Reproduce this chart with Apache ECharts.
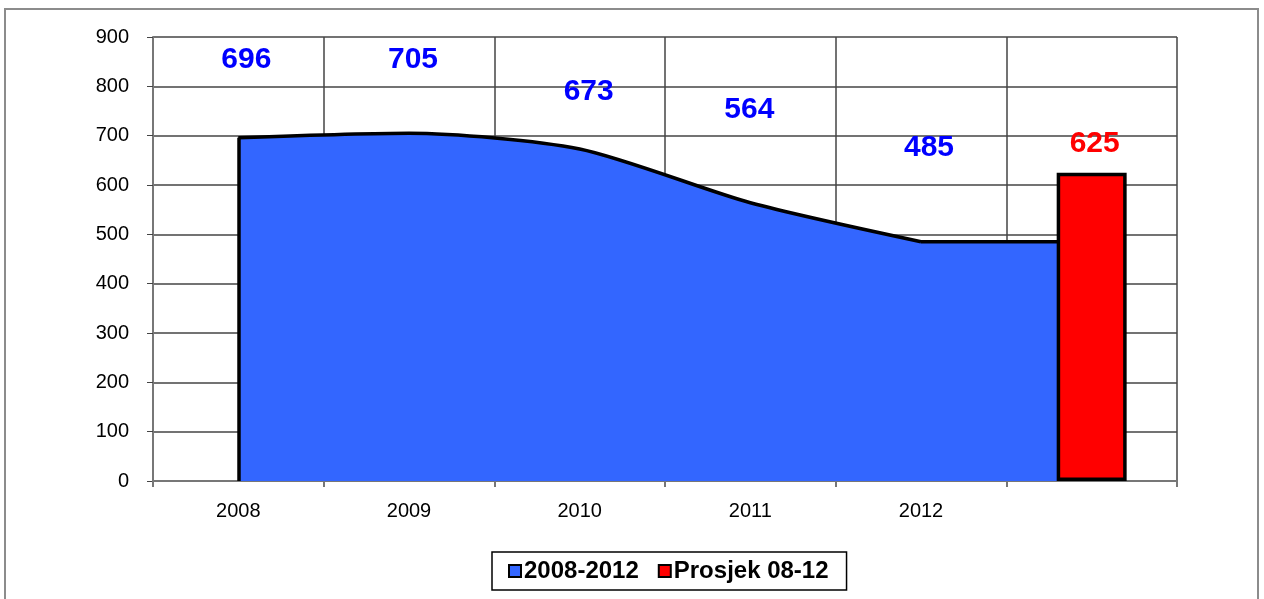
<!DOCTYPE html>
<html>
<head>
<meta charset="utf-8">
<script src="https://cdn.jsdelivr.net/npm/echarts@6/dist/echarts.min.js"></script>
<style>
html,body{margin:0;padding:0;background:#fff;}
#chart{width:1264px;height:599px;}
</style>
</head>
<body>
<div id="chart"></div>
<script>
// ---- data ----
const categories = ['2008', '2009', '2010', '2011', '2012', ''];
const areaName = '2008-2012';
const areaValues = [696, 705, 673, 564, 485];
const areaTail = [null, null, null, null, 485, 485]; // flat continuation behind the bar
const avgName = 'Prosjek 08-12';
const avgValues = [null, null, null, null, null, 625];
const yTicks = [0, 100, 200, 300, 400, 500, 600, 700, 800, 900];

// ---- styling (label placement as in the reference) ----
const areaLabelOffsets = [[8, -78], [4, -73], [9, -57], [-1, -93], [8, -94]];
const FONT = '"Liberation Sans", Arial, sans-serif';
const BLUE = '#3366FF';

const chart = echarts.init(document.getElementById('chart'));

const areaData = areaValues.map((v, i) => ({
  value: v,
  label: { show: true, position: 'inside', offset: areaLabelOffsets[i] }
}));

const option = {
  animation: false,
  backgroundColor: '#fff',
  graphic: [{
    type: 'rect',
    shape: { x: 5, y: 9, width: 1253, height: 620 },
    style: { fill: 'none', stroke: '#8c8c8c', lineWidth: 2 },
    silent: true
  }],
  grid: { left: 153, right: 87, top: 37, bottom: 118 },
  legend: {
    left: 492, top: 552,
    padding: [7, 18, 7, 16],
    borderColor: '#000', borderWidth: 1.5,
    itemWidth: 12, itemHeight: 12, itemGap: 19,
    icon: 'rect',
    textStyle: { fontFamily: FONT, fontSize: 24, fontWeight: 'bold', color: '#000', padding: [0, 0, 0, -2] },
    data: [
      { name: areaName, itemStyle: { color: BLUE, borderColor: '#000', borderWidth: 2 } },
      { name: avgName, itemStyle: { color: '#FF0000', borderColor: '#000', borderWidth: 2 } }
    ]
  },
  xAxis: {
    type: 'category',
    data: categories,
    boundaryGap: true,
    axisLine: { lineStyle: { color: '#777', width: 2 } },
    axisTick: { show: true, length: 6, lineStyle: { color: '#777', width: 2 } },
    axisLabel: { fontFamily: FONT, fontSize: 20, color: '#000', margin: 20 },
    splitLine: { show: true, lineStyle: { color: '#444', width: 1.5 } }
  },
  yAxis: {
    type: 'value',
    min: 0, max: 900, interval: 100,
    axisLine: { show: true, lineStyle: { color: '#777', width: 2 } },
    axisTick: { show: true, length: 6, lineStyle: { color: '#444' } },
    axisLabel: { fontFamily: FONT, fontSize: 20, color: '#000', margin: 24,
      formatter: v => yTicks.includes(v) ? String(v) : '' },
    splitLine: { show: true, lineStyle: { color: '#444', width: 1.5 } }
  },
  series: [
    {
      name: areaName + ' (tail)',
      type: 'line',
      data: areaTail,
      smooth: false,
      symbol: 'none',
      lineStyle: { color: '#000', width: 3.5 },
      areaStyle: { color: BLUE, opacity: 1 },
      z: 2
    },
    {
      name: areaName,
      type: 'line',
      data: areaData,
      smooth: 0.25,
      symbol: 'circle',
      symbolSize: 1,
      itemStyle: { color: '#000' },
      lineStyle: { color: '#000', width: 3.5 },
      areaStyle: { color: BLUE, opacity: 1 },
      label: { show: true, fontFamily: FONT, fontSize: 30, fontWeight: 'bold', color: '#0000FF' },
      z: 2,
      markLine: {
        silent: true,
        symbol: 'none',
        label: { show: false },
        lineStyle: { color: '#000', width: 3.5, type: 'solid' },
        data: [[{ coord: [0, 0] }, { coord: [0, areaValues[0]] }]]
      }
    },
    {
      name: avgName,
      type: 'bar',
      data: avgValues,
      barWidth: '41%',
      itemStyle: { color: '#FF0000', borderColor: '#000', borderWidth: 3.5 },
      label: { show: true, position: 'top', distance: 16, fontFamily: FONT, fontSize: 30, fontWeight: 'bold', color: '#FF0000', offset: [3, 2] },
      z: 3
    }
  ]
};
chart.setOption(option);
</script>
</body>
</html>
